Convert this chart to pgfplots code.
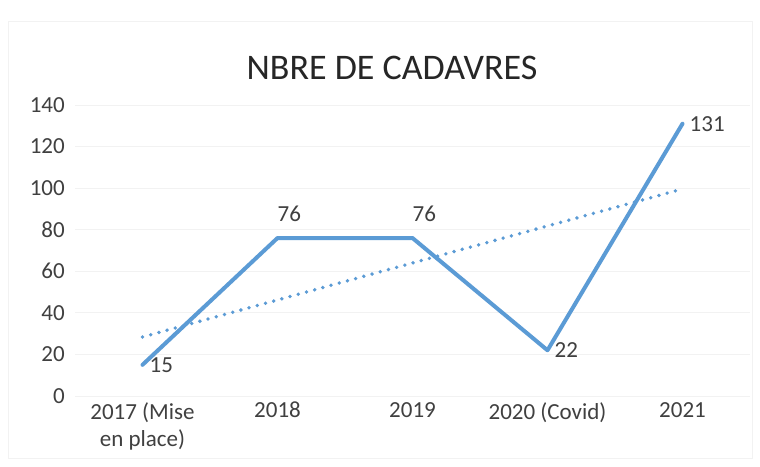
\documentclass[border=0pt]{standalone}
\usepackage{pgfplots}
\pgfplotsset{compat=1.18}
\usepackage{fontspec}
\setmainfont{Carlito}
\definecolor{xlblue}{RGB}{91,155,213}
\definecolor{txt}{RGB}{64,64,64}
\begin{document}
\begin{tikzpicture}[x=1pt,y=1pt]
\path[use as bounding box, fill=white] (0,0) rectangle (760,466);
\draw[black!5, line width=1pt] (8,8) rectangle (752,444);
\node[font=\fontsize{36}{40}\selectfont, text=black!85] at (392,398) {NBRE DE CADAVRES};
\begin{axis}[
  at={(75pt,70pt)}, anchor=south west,
  scale only axis, width=675pt, height=291pt,
  xmin=-0.5, xmax=4.5, ymin=0, ymax=140,
  ytick={0,20,...,140},
  xtick={0,1,2,3,4},
  xticklabels={{2017 (Mise\\en place)},2018,2019,{2020 (Covid)},2021},
  axis line style={draw=none},
  major tick length=0pt,
  ymajorgrids, grid style={black!5, line width=0.8pt},
  tick label style={font=\fontsize{23}{27}\selectfont, text=txt},
  yticklabel style={anchor=east, inner sep=0pt, xshift=-10pt},
  xticklabel style={anchor=north, inner sep=0pt, yshift=-6pt, align=center},
  /pgf/number format/assume math mode=true,
  clip=false,
]
\addplot[xlblue, line width=3.8pt, dash pattern=on 0pt off 8.5pt, line cap=round] coordinates {(0,28.4) (4,99.6)};
\addplot[xlblue, line width=4pt, line join=round, line cap=round] coordinates {(0,15) (1,76) (2,76) (3,22) (4,131)};
\addplot[draw=none, nodes near coords, point meta=y,
  nodes near coords style={anchor=west, inner sep=0pt, xshift=7pt, font=\fontsize{23}{27}\selectfont, text=txt}]
  coordinates {(0,15) (3,22) (4,131)};
\addplot[draw=none, nodes near coords, point meta=y,
  nodes near coords style={anchor=south west, inner sep=0pt, yshift=16pt, font=\fontsize{23}{27}\selectfont, text=txt}]
  coordinates {(1,76) (2,76)};
\end{axis}
\end{tikzpicture}
\end{document}
